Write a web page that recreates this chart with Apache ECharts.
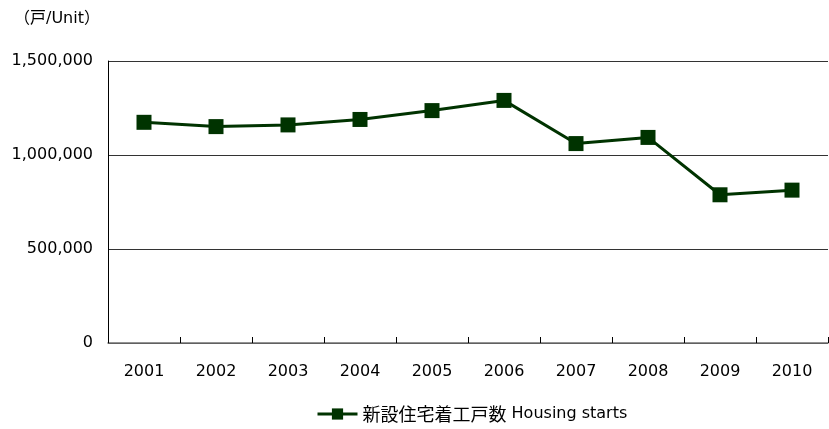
<!DOCTYPE html>
<html lang="ja">
<head>
<meta charset="utf-8" />
<style>
  body { margin: 0; background: #fff; overflow: hidden; }
  .box { width: 829px; height: 429px; }
</style>
</head>
<body>
<div class="box"></div>
<script src="https://cdn.jsdelivr.net/npm/echarts@6/dist/echarts.min.js"></script>
<script>
// 年
var years = ['2001', '2002', '2003', '2004', '2005', '2006', '2007', '2008', '2009', '2010'];
// 新設住宅着工戸数
var housingStarts = [1173858, 1151016, 1160083, 1189049, 1236175, 1290391, 1060741, 1093519, 788410, 813126];
var seriesName = '新設住宅着工戸数 Housing starts';
var unitLabel = '（戸/Unit）';

var font = '"DejaVu Sans", "Noto Sans CJK JP", sans-serif';
var cjkFont = '"Noto Sans CJK JP", sans-serif';
var myChart = echarts.init(document.querySelector('.box'));

var option = {
    animation: false,
    textStyle: { fontFamily: font },
    title: {
        text: unitLabel,
        left: 9,
        top: 6,
        textStyle: { fontSize: 16, fontWeight: 'normal', color: '#000', fontFamily: font }
    },
    legend: {
        bottom: 1,
        left: 311,
        itemWidth: 40,
        itemHeight: 14,
        itemGap: 4,
        lineStyle: { width: 3 },
        textStyle: {
            fontSize: 16, color: '#000', fontFamily: font,
            rich: {
                c: { fontSize: 18, fontFamily: cjkFont, color: '#000' }
            }
        },
        formatter: function (name) {
            var i = name.indexOf(' ');
            return '{c|' + name.slice(0, i) + '}' + name.slice(i);
        },
        data: [seriesName]
    },
    grid: { left: 108, right: 1, top: 61, bottom: 86 },
    xAxis: {
        type: 'category',
        data: years,
        boundaryGap: true,
        axisLine: { lineStyle: { color: '#707070', width: 1.5 } },
        axisTick: { show: true, inside: true, length: 6, lineStyle: { color: '#000' } },
        axisLabel: { color: '#000', fontSize: 16, margin: 21 }
    },
    yAxis: {
        type: 'value',
        min: 0,
        max: 1500000,
        interval: 500000,
        axisLine: { show: true, lineStyle: { color: '#000' } },
        axisTick: { show: false },
        splitLine: { lineStyle: { color: '#333', width: 1 } },
        axisLabel: {
            color: '#000',
            fontSize: 16,
            margin: 15,
            formatter: function (v) { return v.toLocaleString('en-US'); }
        }
    },
    series: [{
        name: seriesName,
        type: 'line',
        data: housingStarts,
        symbol: 'rect',
        symbolSize: 15,
        lineStyle: { color: '#003300', width: 3 },
        itemStyle: { color: '#003300' }
    }]
};

myChart.setOption(option);
</script>
</body>
</html>
